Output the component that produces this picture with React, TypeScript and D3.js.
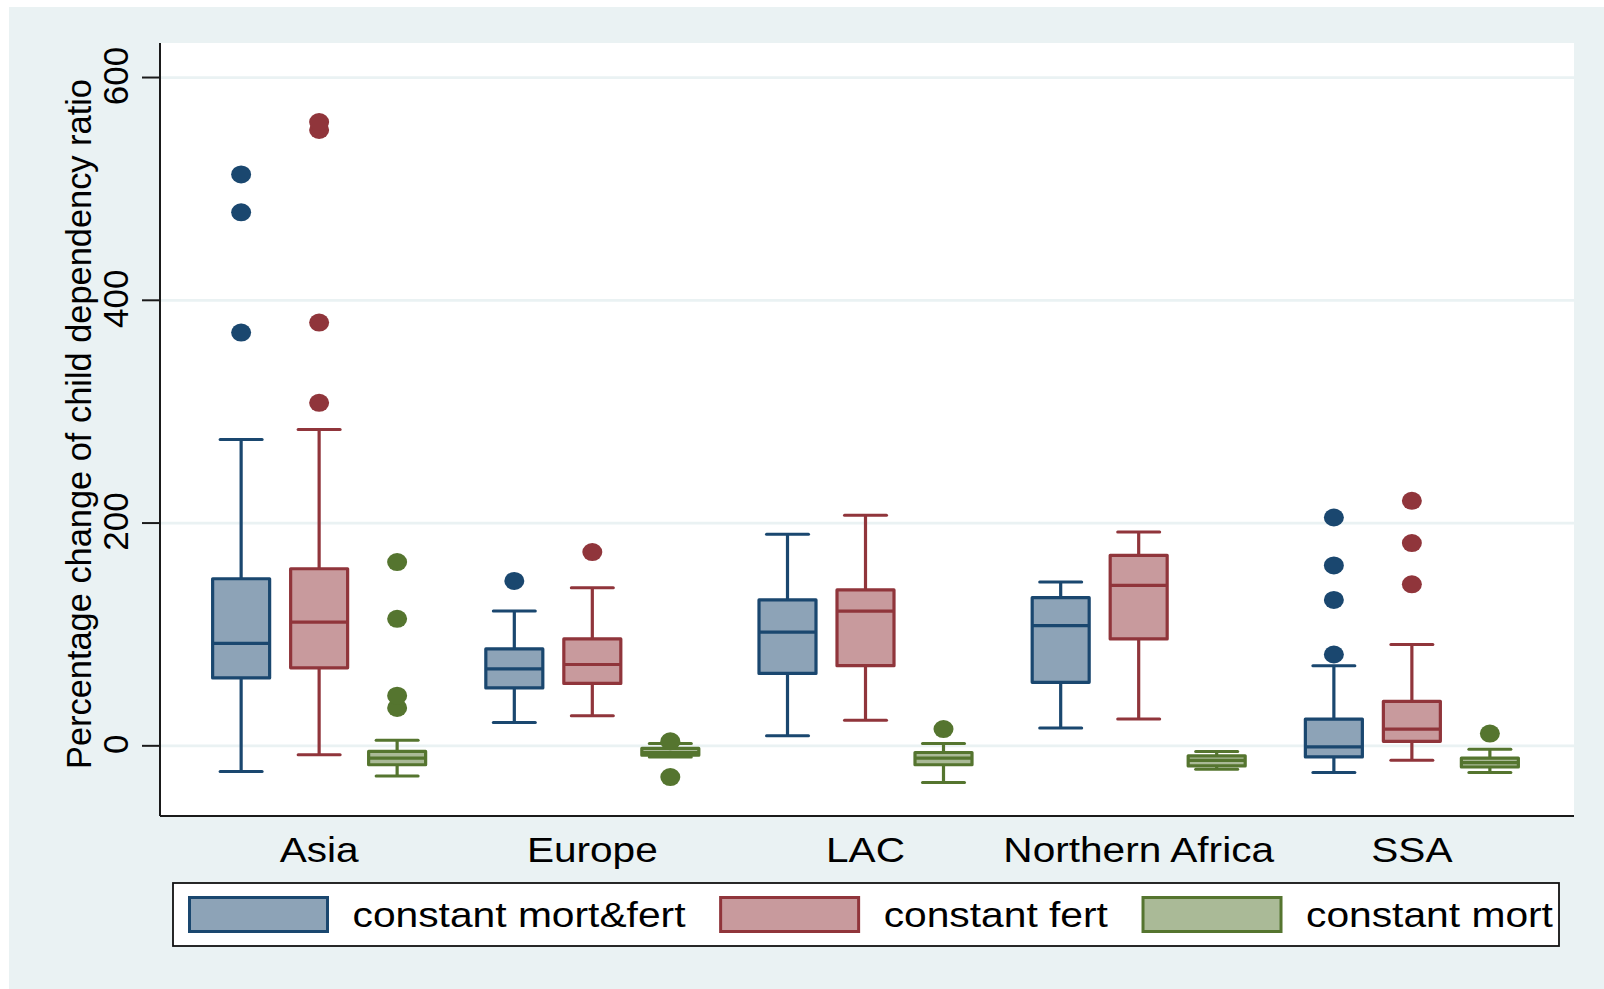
import React from "react";
import * as d3 from "d3";

// Regions on the x axis and the three projection scenarios
const regions = ["Asia", "Europe", "LAC", "Northern Africa", "SSA"];
const seriesNames = ["constant mort&fert", "constant fert", "constant mort"];

// Box statistics per region (lower whisker, Q1, median, Q3, upper whisker)
const mortFertLow = [-23, 21, 9, 16, -24];
const mortFertQ1 = [61, 52, 65, 57, -10];
const mortFertMedian = [92, 69, 102, 108, -1];
const mortFertQ3 = [150, 87, 131, 133, 24];
const mortFertHigh = [275, 121, 190, 147, 72];
const mortFertOutliers = [[371, 479, 513], [148], [], [], [82, 131, 162, 205]];

const fertLow = [-8, 27, 23, 24, -13];
const fertQ1 = [70, 56, 72, 96, 4];
const fertMedian = [111, 73, 121, 144, 15];
const fertQ3 = [159, 96, 140, 171, 40];
const fertHigh = [284, 142, 207, 192, 91];
const fertOutliers = [[308, 380, 553, 560], [174], [], [], [145, 182, 220]];

const mortLow = [-27, -10, -33, -21, -24];
const mortQ1 = [-17, -8.4, -17, -18, -19];
const mortMedian = [-11, -6, -11, -13, -15];
const mortQ3 = [-5, -2.3, -6, -9, -11];
const mortHigh = [5, 2, 2, -5, -3];
const mortOutliers = [[34, 45, 114, 165], [-28, 4], [15], [], [11]];

const yTicks = [0, 200, 400, 600];

const strokeColors = ["#1a476f", "#90353b", "#55752f"];
const fillColors = ["#8da3b7", "#c89a9d", "#aaba97"];

type BoxStat = {
  region: string;
  series: string;
  si: number;
  low: number;
  q1: number;
  median: number;
  q3: number;
  high: number;
  outliers: number[];
};

const seriesArrays = [
  [mortFertLow, mortFertQ1, mortFertMedian, mortFertQ3, mortFertHigh, mortFertOutliers],
  [fertLow, fertQ1, fertMedian, fertQ3, fertHigh, fertOutliers],
  [mortLow, mortQ1, mortMedian, mortQ3, mortHigh, mortOutliers],
] as const;

const boxes: BoxStat[] = [];
seriesArrays.forEach((arr, si) => {
  regions.forEach((region, ri) => {
    boxes.push({
      region,
      series: seriesNames[si],
      si,
      low: arr[0][ri] as number,
      q1: arr[1][ri] as number,
      median: arr[2][ri] as number,
      q3: arr[3][ri] as number,
      high: arr[4][ri] as number,
      outliers: arr[5][ri] as number[],
    });
  });
});

const W = 1604;
const H = 989;
const plot = { left: 160, right: 1574, top: 43, bottom: 816 };
const FONT = "'Liberation Sans', Arial, Helvetica, sans-serif";
const FS = 35;
const AXIS_STRETCH = 1.16;
const LEGEND_STRETCH = 1.165;

function measure(text: string, stretch: number): number {
  const c = document.createElement("canvas").getContext("2d");
  if (!c) return text.length * FS * 0.55;
  c.font = `${FS}px ${FONT}`;
  return c.measureText(text).width * stretch;
}

export default function App() {
  const x = d3
    .scaleBand<string>()
    .domain(regions)
    .range([plot.left, plot.right])
    .paddingInner(0)
    .paddingOuter(0.088);
  const inner = d3.scalePoint<string>().domain(seriesNames).range([-78, 78]);
  const y = d3.scaleLinear().domain([-63, 631]).range([plot.bottom, plot.top]);

  const boxW = 57;
  const capHalf = 21;

  // legend layout: key, gap, label, gap, next key ...
  const keyW = 138;
  const keyH = 34;
  let lx = 189.5;
  const legendItems = seriesNames.map((name, i) => {
    const item = { name, i, keyX: lx, textX: lx + keyW + 25 };
    lx = item.textX + measure(name, LEGEND_STRETCH) + 35;
    return item;
  });

  return (
    <svg
      width={W}
      height={H}
      style={{ position: "absolute", left: 0, top: 0, display: "block" }}
      fontFamily={FONT}
    >
      <rect x={0} y={0} width={W} height={H} fill="#ffffff" />
      <rect x={9} y={7} width={W - 9} height={H - 7} fill="#eaf2f3" />
      <rect
        x={plot.left}
        y={plot.top}
        width={plot.right - plot.left}
        height={plot.bottom - plot.top}
        fill="#ffffff"
      />

      {/* horizontal grid */}
      {yTicks.map((t) => (
        <line
          key={`g${t}`}
          x1={plot.left}
          x2={plot.right}
          y1={y(t)}
          y2={y(t)}
          stroke="#eaf2f3"
          strokeWidth={2.7}
        />
      ))}

      {/* boxes */}
      {boxes.map((b) => {
        const cx = (x(b.region) as number) + x.bandwidth() / 2 + (inner(b.series) as number) - 1.5;
        const sc = strokeColors[b.si];
        return (
          <g key={`${b.region}-${b.si}`}>
            <line x1={cx} x2={cx} y1={y(b.q3)} y2={y(b.high)} stroke={sc} strokeWidth={3.2} />
            <line x1={cx} x2={cx} y1={y(b.q1)} y2={y(b.low)} stroke={sc} strokeWidth={3.2} />
            <line
              x1={cx - capHalf}
              x2={cx + capHalf}
              y1={y(b.high)}
              y2={y(b.high)}
              stroke={sc}
              strokeWidth={3}
              strokeLinecap="round"
            />
            <line
              x1={cx - capHalf}
              x2={cx + capHalf}
              y1={y(b.low)}
              y2={y(b.low)}
              stroke={sc}
              strokeWidth={3}
              strokeLinecap="round"
            />
            <rect
              x={cx - boxW / 2}
              y={y(b.q3)}
              width={boxW}
              height={Math.max(0.5, y(b.q1) - y(b.q3))}
              fill={fillColors[b.si]}
              stroke={sc}
              strokeWidth={3.2}
              strokeLinejoin="round"
            />
            <line
              x1={cx - boxW / 2}
              x2={cx + boxW / 2}
              y1={y(b.median)}
              y2={y(b.median)}
              stroke={sc}
              strokeWidth={3.2}
            />
            {b.outliers.map((o, k) => (
              <ellipse key={k} cx={cx} cy={y(o)} rx={10} ry={9} fill={sc} />
            ))}
          </g>
        );
      })}

      {/* y axis */}
      <line x1={plot.left} x2={plot.left} y1={plot.top} y2={plot.bottom} stroke="#1a1a1a" strokeWidth={2} />
      {yTicks.map((t) => (
        <g key={`t${t}`}>
          <line x1={plot.left - 18} x2={plot.left} y1={y(t)} y2={y(t)} stroke="#1a1a1a" strokeWidth={2} />
          <text
            transform={`translate(127.5,${y(t) - 1.5}) rotate(-90)`}
            textAnchor="middle"
            fontSize={FS}
            fill="#000"
          >
            {t}
          </text>
        </g>
      ))}
      <text
        transform={`translate(91,424) rotate(-90)`}
        textAnchor="middle"
        fontSize={FS}
        textLength={690}
        lengthAdjust="spacingAndGlyphs"
        fill="#000"
      >
        Percentage change of child dependency ratio
      </text>

      {/* x axis */}
      <line x1={plot.left} x2={plot.right} y1={plot.bottom} y2={plot.bottom} stroke="#1a1a1a" strokeWidth={2} />
      {regions.map((r) => (
        <text
          key={r}
          transform={`translate(${(x(r) as number) + x.bandwidth() / 2 - 1.5},862) scale(${AXIS_STRETCH},1)`}
          textAnchor="middle"
          fontSize={FS}
          fill="#000"
        >
          {r}
        </text>
      ))}

      {/* legend */}
      <rect x={173} y={883} width={1386} height={63} fill="#ffffff" stroke="#111" strokeWidth={1.8} />
      {legendItems.map((it) => (
        <g key={it.name}>
          <rect
            x={it.keyX}
            y={897.5}
            width={keyW}
            height={keyH}
            fill={fillColors[it.i]}
            stroke={strokeColors[it.i]}
            strokeWidth={3}
          />
          <text
            transform={`translate(${it.textX},927) scale(${LEGEND_STRETCH},1)`}
            fontSize={FS}
            fill="#000"
          >
            {it.name}
          </text>
        </g>
      ))}
    </svg>
  );
}
